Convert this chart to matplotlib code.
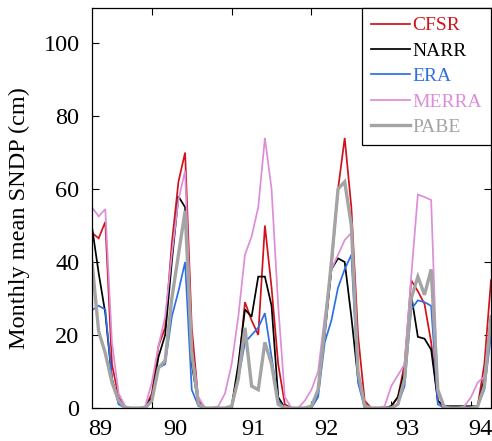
import numpy as np
import matplotlib
matplotlib.use("Agg")
import matplotlib.pyplot as plt
from matplotlib.ticker import FixedLocator, NullFormatter

plt.rcParams['font.family'] = ['Liberation Serif', 'DejaVu Serif']

# Monthly index (0 = first month on the axis)
months = np.arange(0, 61)

cfsr = [48, 46.5, 51, 12, 3, 0, 0, 0, 0, 4,
        17, 22, 45, 62, 70, 22, 2, 0, 0, 0,
        0, 0.5, 10, 29, 24, 20, 50, 33, 12, 1,
        0, 0, 0, 0.5, 5, 22, 38, 60, 74, 55,
        20, 2, 0, 0, 0, 0.5, 3, 12, 35, 32,
        28.5, 18, 2, 0, 0, 0, 0, 0, 0.5, 12, 35]
narr = [49.6, 37, 26, 8, 1.5, 0, 0, 0, 0, 3,
        14, 20, 40, 58, 55, 12, 1, 0, 0, 0,
        0, 0.5, 12, 27, 25, 36, 36, 28, 3, 0,
        0, 0, 0, 0.5, 4, 20, 38, 41, 40, 25,
        8, 1, 0, 0, 0, 0.5, 3, 10, 31, 19.5,
        19, 16, 2, 0.5, 0.5, 0.5, 0.5, 0.5, 0.5, 8, 25]
era = [26.8, 28, 27, 8, 1, 0, 0, 0, 0, 2,
       11, 12, 25, 32, 40, 5, 0.5, 0, 0, 0,
       0, 0, 8, 18, 20, 22, 26, 14, 2, 0,
       0, 0, 0, 0, 3, 18, 24, 33, 38, 42,
       7, 0, 0, 0, 0, 0, 1, 6, 27, 29.5,
       29, 28, 1, 0, 0, 0, 0, 0, 0.5, 5, 20]
merra = [55, 52.5, 54.5, 18, 4, 0.5, 0, 0, 0.5, 7,
         17, 25, 42, 57, 65, 16, 3, 0, 0, 0.5,
         4, 12, 25, 42, 47, 55, 74, 60, 28, 3,
         0, 0, 2, 5, 10, 25, 38, 42, 46, 48,
         10, 1, 0, 0, 0.5, 6, 9, 12, 36, 58.5,
         57.8, 57, 4, 0.5, 0, 0, 0.5, 3, 7, 8.6, 25]
pabe = [40, 21, 15, 7, 2, 0, 0, 0, 0, 2,
        11, 13, 30, 42, 54, 15, 1, 0, 0, 0,
        0, 0.5, 8, 22, 6, 5, 18, 12, 1, 0,
        0, 0, 0, 0.5, 5, 22, 40, 60, 62, 50,
        10, 0.5, 0, 0, 0, 0, 1, 8, 30, 36,
        31, 38, 5, 0, 0, 0, 0, 0, 0.5, 6, 25]

series_names = ["CFSR", "NARR", "ERA", "MERRA", "PABE"]
series_colors = ["#d0121c", "#000000", "#2f6fe4", "#dc8ed8", "#a4a4a4"]
series_widths = [1.25, 1.25, 1.25, 1.25, 2.4]

year_labels = ["89", "90", "91", "92", "93", "94"]
year_label_pos = [1.2, 12.5, 24.2, 35.3, 47.4, 58.4]
season_ticks = [9, 21, 33, 45, 57]
y_ticks = [0, 20, 40, 60, 80, 100]

fig = plt.figure(figsize=(4.92, 4.41), dpi=100)
ax = fig.add_axes([92 / 492, 33 / 441, 399 / 492, 400 / 441])

for vals, name, col, lw in zip([cfsr, narr, era, merra, pabe],
                               series_names, series_colors, series_widths):
    ax.plot(months, vals, color=col, lw=lw, label=name, solid_joinstyle='miter')

ax.set_xlim(0, 60)
ax.set_ylim(0, 109.6)

# labelled year positions (no tick marks) and inward season ticks
ax.xaxis.set_major_locator(FixedLocator(year_label_pos))
ax.set_xticklabels(year_labels)
ax.xaxis.set_minor_locator(FixedLocator(season_ticks))
ax.xaxis.set_minor_formatter(NullFormatter())
ax.tick_params(axis='x', which='major', length=0, pad=8, labelsize=17.5)
ax.tick_params(axis='x', which='minor', direction='in', length=5, width=0.8,
               top=True, bottom=True)

ax.set_yticks(y_ticks)
ax.tick_params(axis='y', which='major', direction='in', length=5, width=0.8,
               left=True, right=True, pad=9, labelsize=17.5)

for sp in ax.spines.values():
    sp.set_linewidth(0.9)

ax.set_ylabel("Monthly mean SNDP (cm)", fontsize=17.5)
ax.yaxis.set_label_coords(-0.155, 0.475)

leg = ax.legend(loc='upper right', bbox_to_anchor=(1.0, 1.0), fontsize=14,
                frameon=True, fancybox=False, framealpha=1, edgecolor='black',
                borderaxespad=0, borderpad=0.45, handlelength=2.0,
                handletextpad=0.15, labelspacing=0.4)
leg.get_frame().set_linewidth(0.9)
for txt, col in zip(leg.get_texts(), series_colors):
    txt.set_color(col)

fig.savefig("out.png", dpi=100)
